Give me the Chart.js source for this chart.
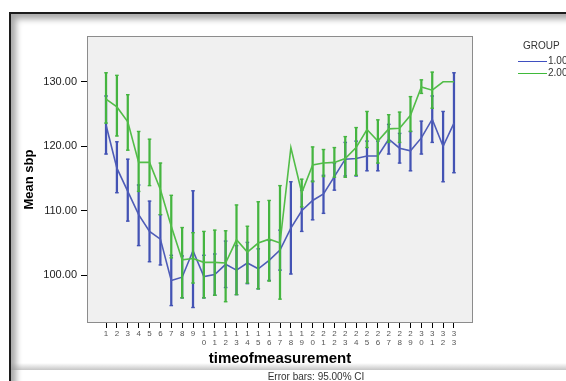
<!DOCTYPE html>
<html><head><meta charset="utf-8">
<script src="https://cdn.jsdelivr.net/npm/chart.js@4.4.1/dist/chart.umd.min.js"></script>
<style>
html,body{margin:0;padding:0;background:#fff;width:566px;height:381px;overflow:hidden;font-family:"Liberation Sans",Arial,sans-serif;}
#frame{position:absolute;left:9px;top:12px;width:640px;height:420px;border-top:2px solid #1c1c1c;border-left:2px solid #1c1c1c;box-shadow:inset 5px 5px 6px rgba(0,0,0,0.35);background:#fff;}
#band{position:absolute;left:11px;top:363px;width:560px;height:7px;background:linear-gradient(to bottom,rgba(255,255,255,0),rgba(150,150,150,0.55));}
#wrap{position:absolute;left:0;top:0;width:566px;height:381px;}
#foot{position:absolute;left:216px;width:200px;top:371px;text-align:center;font-size:10px;line-height:12px;color:#333;}
.lg{position:absolute;font-size:10px;line-height:12px;color:#333;white-space:nowrap;}
.ln{position:absolute;height:1px;width:29px;left:518px;}
</style></head>
<body>
<div id="frame"></div>
<div id="band"></div>
<div id="wrap"><canvas id="c" width="566" height="381"></canvas></div>
<div id="foot">Error bars: 95.00% CI</div>
<div class="lg" style="left:523px;top:40px;">GROUP</div>
<div class="ln" style="top:61px;background:#3f4fc0;"></div>
<div class="lg" style="left:548px;top:55px;">1.00</div>
<div class="ln" style="top:73px;background:#3fba3a;"></div>
<div class="lg" style="left:548px;top:67px;">2.00</div>
<script>
const timepoints = [1,2,3,4,5,6,7,8,9,10,11,12,13,14,15,16,17,18,19,20,21,22,23,24,25,26,27,28,29,30,31,32,33];
const groupLabels = ['1.00','2.00'];
const yTicks = [100,110,120,130];

const group1Mean = [123.3,116.6,113.0,109.4,106.8,105.6,99.2,99.7,103.8,99.8,100.1,101.7,100.8,101.9,101.0,102.3,103.9,107.3,110.0,111.6,112.6,115.3,118.0,118.1,118.5,118.5,121.1,119.7,119.3,121.3,124.2,120.0,123.6];
const group1Low  = [118.8,112.8,108.4,104.6,102.1,101.6,95.3,96.5,95.0,96.5,96.9,98.1,97.0,98.7,97.9,99.2,100.8,100.2,106.8,108.6,109.6,113.2,115.4,115.4,116.2,116.2,118.8,117.4,116.2,118.8,120.6,114.5,115.9];
const group1High = [127.8,120.7,118.0,114.0,111.5,109.4,103.1,103.0,113.1,103.1,103.3,105.3,104.6,105.1,104.1,105.4,107.0,114.5,113.2,114.6,115.5,117.4,120.6,120.8,120.8,120.8,123.4,122.0,122.3,123.9,127.8,125.4,131.4];

const group2Mean = [127.3,126.1,123.8,117.5,117.5,113.3,107.6,102.4,102.6,102.0,102.0,101.9,105.5,103.6,105.0,105.6,105.0,119.8,112.8,117.1,117.4,117.5,118.1,119.8,122.6,120.8,122.7,122.8,124.8,129.2,128.7,130.0,130.0];
const group2Low  = [123.6,121.6,119.4,113.0,113.9,109.4,102.7,96.5,98.8,96.5,96.9,95.9,97.0,98.8,97.9,99.1,96.3,null,110.6,114.5,115.3,115.2,115.2,115.5,119.8,117.4,120.6,120.6,122.3,128.2,125.9,null,null];
const group2High = [131.4,131.0,128.0,122.3,121.1,117.4,112.4,107.4,106.6,106.8,107.0,106.9,110.9,107.6,111.4,111.6,113.9,null,114.9,119.9,119.5,119.8,121.5,122.9,125.4,124.1,124.9,125.3,127.7,130.3,131.5,null,null];

const BLUE_LINE='#4e5cb8', BLUE_BAR='#4353b4', GREEN_LINE='#52bd48', GREEN_BAR='#45b540';
const FONT='"Liberation Sans", Arial, sans-serif';

function meanPts(m){ return timepoints.map((t,i)=>({x:t,y:m[i]})); }
function barPts(lo,hi){ const r=[]; timepoints.forEach((t,i)=>{ if(lo[i]!=null&&hi[i]!=null) r.push({x:t,y:[lo[i],hi[i]]}); }); return r; }
function capPts(lo,hi){ const r=[]; timepoints.forEach((t,i)=>{ if(lo[i]!=null&&hi[i]!=null){ r.push({x:t,y:lo[i]}); r.push({x:t,y:hi[i]}); } }); return r; }

const bgPlugin = {
  id:'bg',
  beforeDraw(chart){ const a=chart.chartArea, c=chart.ctx; c.save(); c.fillStyle='#f0f0f0'; c.fillRect(a.left,a.top,a.right-a.left,a.bottom-a.top); c.restore(); },
  afterDraw(chart){ const a=chart.chartArea, c=chart.ctx; c.save(); c.strokeStyle='#8c8c8c'; c.lineWidth=1; c.strokeRect(a.left+0.5,a.top+0.5,a.right-a.left-1,a.bottom-a.top-1); c.restore(); }
};

function lineDs(label,m,color,order){ return {type:'line',label,data:meanPts(m),borderColor:color,borderWidth:1.6,pointRadius:0,tension:0,fill:false,order}; }
function barDs(label,lo,hi,color,order){ return {type:'bar',label,data:barPts(lo,hi),backgroundColor:color,borderWidth:0,barThickness:1.6,grouped:false,order}; }
function capDs(label,lo,hi,color,order){ return {type:'line',label,data:capPts(lo,hi),showLine:false,pointStyle:'line',pointRadius:1.8,pointBorderWidth:1.4,pointBorderColor:color,pointBackgroundColor:color,borderColor:color,order}; }

new Chart(document.getElementById('c'),{
  type:'line',
  data:{datasets:[
    lineDs(groupLabels[1],group2Mean,GREEN_LINE,1),
    barDs(groupLabels[1]+' CI',group2Low,group2High,GREEN_BAR,2),
    capDs(groupLabels[1]+' CI caps',group2Low,group2High,GREEN_BAR,2),
    lineDs(groupLabels[0],group1Mean,BLUE_LINE,3),
    barDs(groupLabels[0]+' CI',group1Low,group1High,BLUE_BAR,4),
    capDs(groupLabels[0]+' CI caps',group1Low,group1High,BLUE_BAR,4)
  ]},
  options:{
    responsive:false, animation:false, events:[],
    layout:{padding:{left:0,right:93,top:36,bottom:0}},
    plugins:{legend:{display:false},tooltip:{enabled:false}},
    scales:{
      x:{type:'linear',min:-0.75,max:34.75,offset:false,
        afterBuildTicks:s=>{ s.ticks=timepoints.map(v=>({value:v})); },
        afterFit:s=>{ s.height=58; },
        ticks:{autoSkip:false,maxRotation:0,minRotation:0,padding:2,color:'#555',font:{family:FONT,size:8,lineHeight:1.05},
          callback:v=>{ const s=String(v); return s.length>1? s.split('') : s; }},
        grid:{display:true,offset:false,drawOnChartArea:false,drawTicks:true,tickLength:5,color:'#000'},
        border:{display:false},
        title:{display:true,text:'timeofmeasurement',color:'#000',font:{family:FONT,size:15,weight:'bold',lineHeight:1.2},padding:{top:0,bottom:13}}
      },
      y:{type:'linear',min:92.6,max:137.1,
        afterBuildTicks:s=>{ s.ticks=yTicks.map(v=>({value:v})); },
        afterFit:s=>{ s.width=87; },
        ticks:{padding:4,color:'#222',font:{family:FONT,size:11},callback:v=>Number(v).toFixed(2)},
        grid:{display:true,drawOnChartArea:false,drawTicks:true,tickLength:6,color:'#000'},
        border:{display:false},
        title:{display:true,text:'Mean sbp',color:'#000',font:{family:FONT,size:13,weight:'bold',lineHeight:1.2},padding:{top:22,bottom:0}}
      }
    }
  },
  plugins:[bgPlugin]
});
</script>
</body></html>
